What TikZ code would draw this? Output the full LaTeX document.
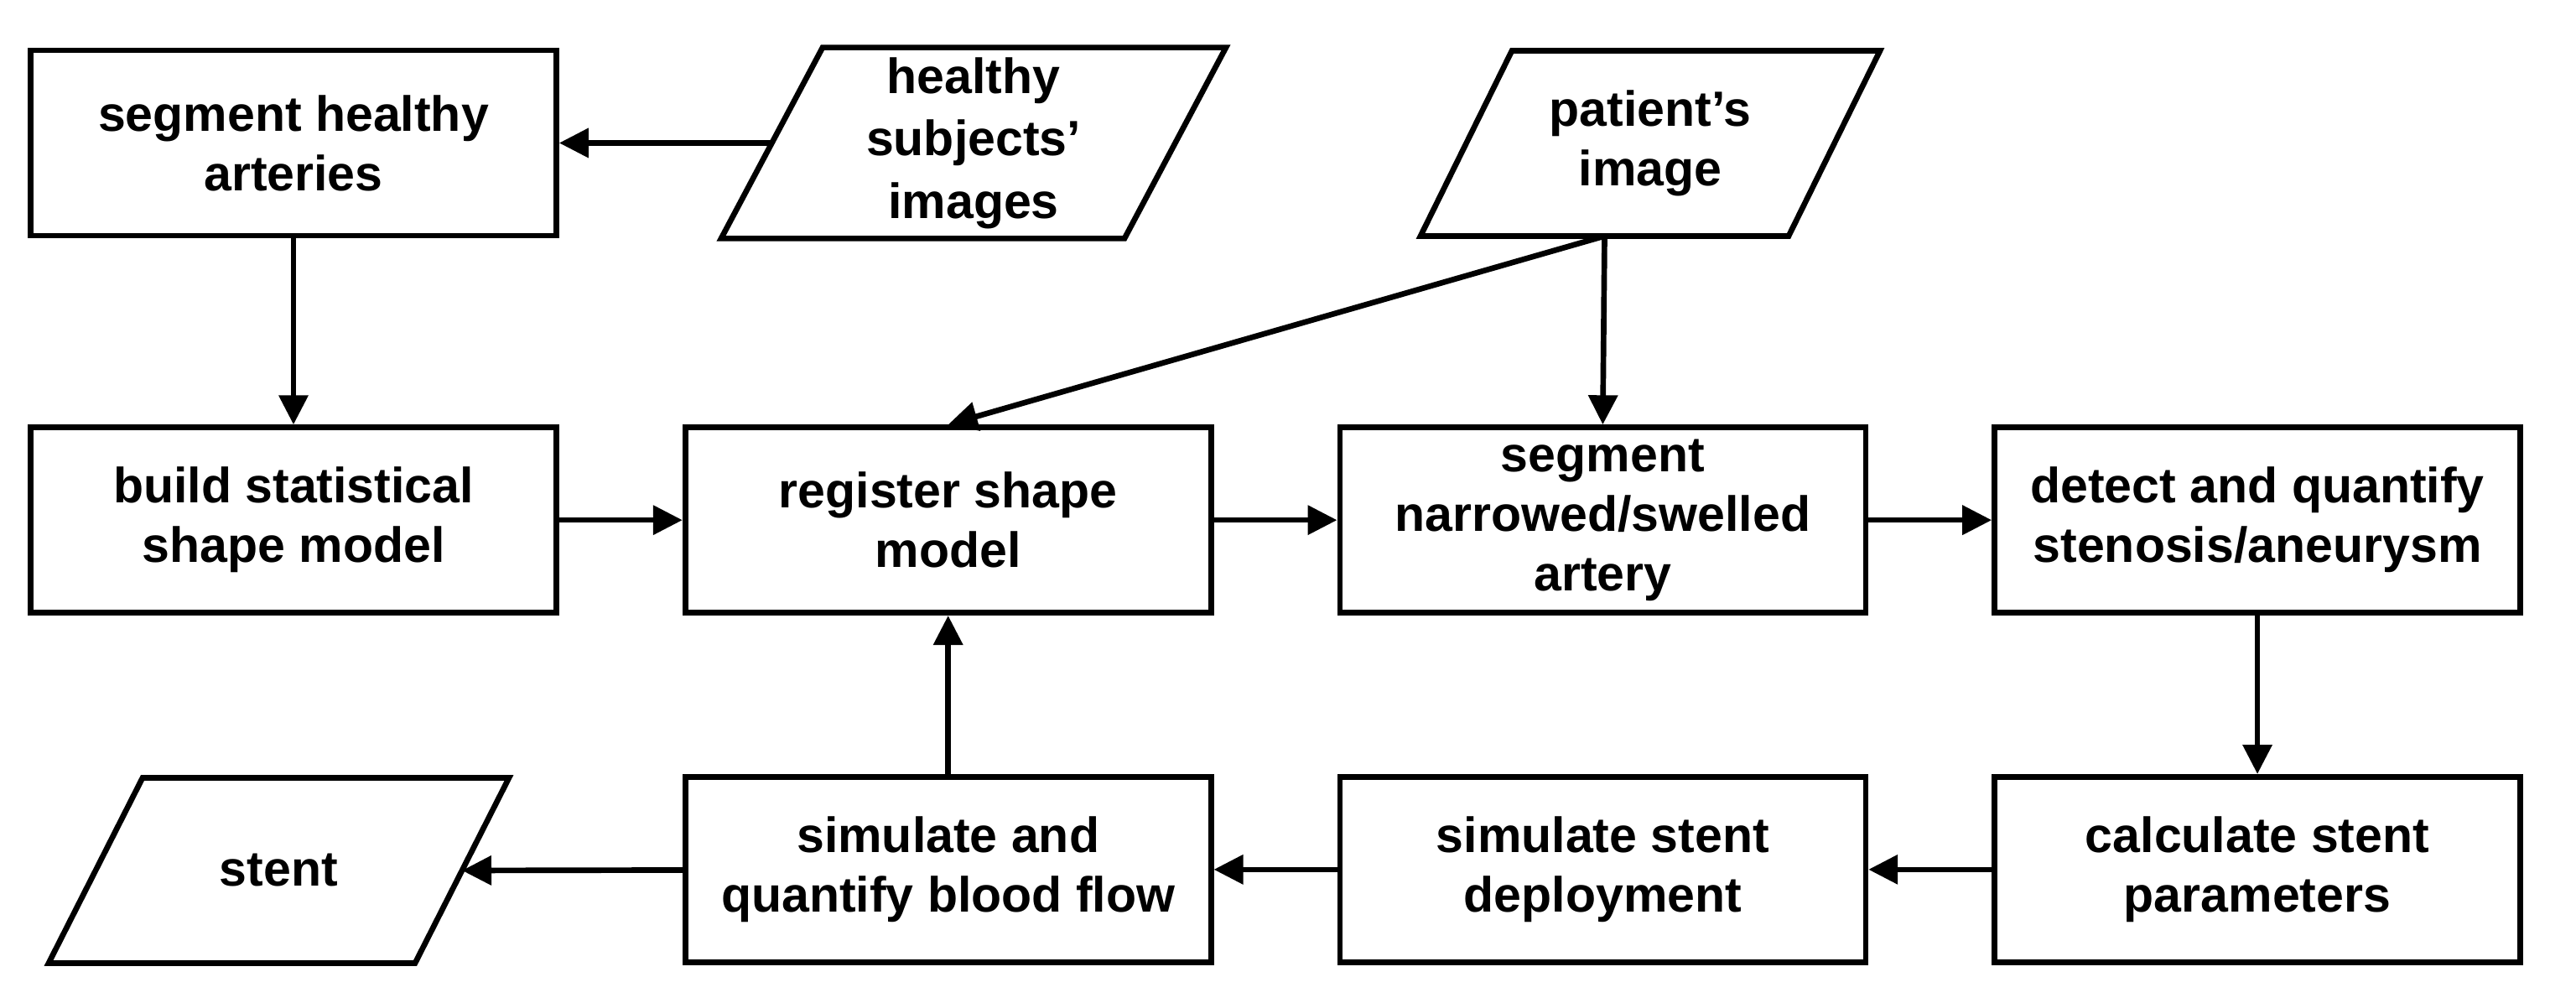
\documentclass[tikz,border=0pt]{standalone}
\usepackage{fontspec}
\setmainfont{Liberation Sans}
\usetikzlibrary{positioning,arrows.meta}
\tikzset{
  stepbox/.style={draw,line width=1.9pt,minimum width=6.27cm,minimum height=2.21cm,align=center,font=\bfseries\fontsize{16.8}{20.2}\selectfont},
  iotext/.style={outer sep=0pt,minimum height=2.21cm,align=center,font=\bfseries\fontsize{16.8}{20.2}\selectfont},
  ioline/.style={line width=1.9pt},
  flow/.style={line width=1.9pt,-{Triangle[length=0.35cm,width=0.34cm]}}
}
\begin{document}
\begin{tikzpicture}
\useasboundingbox (0,0) rectangle (30.72,11.96);
\node[stepbox](segH) at (3.50,10.255){segment healthy\\arteries};
\node[stepbox,below=2.22cm of segH](ssm){build statistical\\shape model};
\node[stepbox,right=1.47cm of ssm](reg){register shape\\model};
\node[stepbox,right=1.47cm of reg](segN){segment\\narrowed/swelled\\artery};
\node[stepbox,right=1.47cm of segN](detect){detect and quantify\\stenosis/aneurysm};
\node[stepbox,below=1.89cm of detect](calc){calculate stent\\parameters};
\node[stepbox,left=1.47cm of calc](deploy){simulate stent\\deployment};
\node[stepbox,left=1.47cm of deploy](flowsim){simulate and\\quantify blood flow};
\node[iotext,minimum width=4.81cm](healthy) at (11.61,10.255){healthy\\[1pt]subjects’\\[1pt]images};
\node[iotext,minimum width=4.39cm](patient) at (19.68,10.25){patient’s\\image};
\node[iotext,minimum width=4.37cm](stent) at (3.325,1.58){stent};
\draw[ioline]([xshift=-0.605cm]healthy.south west) -- ([xshift=-0.605cm]healthy.south east) -- ([xshift=0.605cm]healthy.north east) -- ([xshift=0.605cm]healthy.north west) -- cycle;
\draw[ioline]([xshift=-0.545cm]patient.south west) -- ([xshift=-0.545cm]patient.south east) -- ([xshift=0.545cm]patient.north east) -- ([xshift=0.545cm]patient.north west) -- cycle;
\draw[ioline]([xshift=-0.56cm]stent.south west) -- ([xshift=-0.56cm]stent.south east) -- ([xshift=0.56cm]stent.north east) -- ([xshift=0.56cm]stent.north west) -- cycle;
\draw[flow](healthy.west) -- (segH);
\draw[flow](segH) -- (ssm);
\draw[flow](ssm) -- (reg);
\draw[flow](reg) -- (segN);
\draw[flow](segN) -- (detect);
\draw[flow](detect) -- (calc);
\draw[flow](calc) -- (deploy);
\draw[flow](deploy) -- (flowsim);
\draw[flow](flowsim) -- (stent.east);
\draw[flow](flowsim) -- (reg);
\draw[flow]([xshift=-0.545cm]patient.south) -- (reg.north);
\draw[flow]([xshift=-0.545cm]patient.south) -- (segN.north);
\end{tikzpicture}
\end{document}
